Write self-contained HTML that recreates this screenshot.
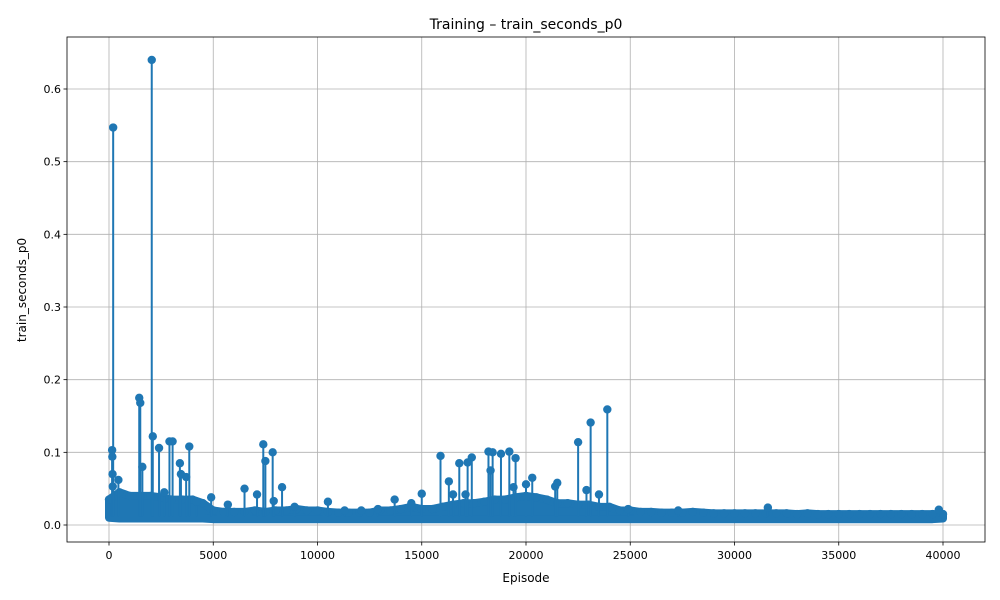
<!DOCTYPE html>
<html><head><meta charset="utf-8"><style>
body{margin:0;background:#fff;}
svg{display:block;font-family:"DejaVu Sans","Liberation Sans",sans-serif;}
</style></head><body>
<svg id="chart" width="1000" height="600" viewBox="0 0 1000 600"></svg>
<script>
const bandStart = 0, bandStep = 500;
const bandHi = [0.035,0.045,0.04,0.04,0.04,0.038,0.035,0.035,0.035,0.03,0.02,
0.018,0.018,0.018,0.02,0.018,0.02,0.02,0.022,0.02,0.02,0.018,0.017,0.017,0.017,0.017,0.02,0.02,0.022,0.025,0.022,
0.022,0.025,0.028,0.03,0.03,0.032,0.035,0.035,0.038,0.04,0.038,0.035,0.03,0.03,0.028,0.028,0.025,0.025,
0.02,0.02,0.018,0.018,0.017,0.017,0.017,0.018,0.017,0.016,0.016,0.016,0.016,0.016,0.016,0.016,0.016,0.015,0.016,0.015,0.015,0.015,0.015,0.015,0.015,0.015,0.015,0.015,0.015,0.015,0.015,0.015];
const bandLo = [0.01,0.009,0.009,0.009,0.009,0.009,0.009,0.009,0.009,0.009,0.008,
0.008,0.008,0.008,0.008,0.008,0.008,0.008,0.008,0.008,0.008,0.008,0.008,0.008,0.008,0.008,0.008,0.008,0.008,0.008,0.008,
0.008,0.008,0.008,0.008,0.008,0.008,0.008,0.008,0.008,0.008,0.008,0.008,0.008,0.008,0.008,0.008,0.008,0.008,
0.008,0.008,0.008,0.008,0.008,0.008,0.008,0.008,0.008,0.008,0.008,0.008,0.008,0.008,0.008,0.008,0.008,0.008,0.008,0.008,0.008,0.008,0.008,0.008,0.008,0.008,0.008,0.008,0.008,0.008,0.008,0.009];
const spikeEpisodes = [100,150,160,170,180,200,450,1450,1500,1600,2050,2100,2400,2650,2900,3050,3400,3450,3700,3850,4200,4900,5700,6500,7100,7400,7500,7850,7900,8300,8900,10500,11300,12100,12900,13700,14500,15000,15900,16300,16500,16800,17100,17200,17400,18200,18300,18400,18800,19200,19400,19500,20000,20300,21400,21500,22500,22900,23100,23500,23900,24900,27300,31600,39800];
const spikeValues = [0.035,0.103,0.094,0.07,0.053,0.547,0.062,0.175,0.168,0.08,0.64,0.122,0.106,0.045,0.115,0.115,0.085,0.07,0.066,0.108,0.032,0.038,0.028,0.05,0.042,0.111,0.088,0.1,0.033,0.052,0.025,0.032,0.02,0.02,0.022,0.035,0.03,0.043,0.095,0.06,0.042,0.085,0.042,0.086,0.093,0.101,0.075,0.1,0.098,0.101,0.052,0.092,0.056,0.065,0.053,0.058,0.114,0.048,0.141,0.042,0.159,0.022,0.02,0.024,0.021];
const xTicks = [0,5000,10000,15000,20000,25000,30000,35000,40000];
const yTicks = [0.0,0.1,0.2,0.3,0.4,0.5,0.6];

const L=67,R=985,T=37,B=542;
const xs = v => 109 + v*(943-109)/40000;
const ys = v => 525 - v*(525-89)/0.6;
const NS="http://www.w3.org/2000/svg";
const svg=document.getElementById('chart');
function mk(tag,attrs,parent){const e=document.createElementNS(NS,tag);for(const k in attrs)e.setAttribute(k,attrs[k]);(parent||svg).appendChild(e);return e;}

const grid=mk('g',{});


xTicks.forEach(t=>{mk('line',{x1:xs(t),x2:xs(t),y1:T,y2:B,stroke:'#b0b0b0','stroke-width':0.8},grid);});
yTicks.forEach(t=>{mk('line',{x1:L,x2:R,y1:ys(t),y2:ys(t),stroke:'#b0b0b0','stroke-width':0.8},grid);});

const series=mk('g',{});



const bandTopPts=bandHi.map((h,i)=>[bandStart+i*bandStep,h]);
const bandBotPts=bandLo.map((l,i)=>[bandStart+i*bandStep,l]).reverse();
const poly=bandTopPts.concat(bandBotPts).map(p=>xs(p[0]).toFixed(2)+','+ys(p[1]).toFixed(2)).join(' ');
const band=mk('polygon',{points:poly,fill:'#1f77b4',stroke:'#1f77b4','stroke-width':8,'stroke-linejoin':'round'},series);


bandTopPts.forEach(p=>{const c=mk('circle',{cx:xs(p[0]),cy:ys(p[1]),r:4.2,fill:'#1f77b4'},series);

});

spikeEpisodes.forEach((e,i)=>{
mk('line',{x1:xs(e),x2:xs(e),y1:ys(0.012),y2:ys(spikeValues[i]),stroke:'#1f77b4','stroke-width':2},series);
const c=mk('circle',{cx:xs(e),cy:ys(spikeValues[i]),r:4.2,fill:'#1f77b4'},series);

});

const frame=mk('rect',{x:L,y:T,width:R-L,height:B-T,fill:'none',stroke:'#000','stroke-width':0.8});



xTicks.forEach(t=>{mk('line',{x1:xs(t),x2:xs(t),y1:B,y2:B+3.5,stroke:'#000','stroke-width':0.8});
const tx=mk('text',{x:xs(t),y:B+17,'font-size':11,'text-anchor':'middle',fill:'#000'});tx.textContent=t;

});
yTicks.forEach(t=>{mk('line',{x1:L-3.5,x2:L,y1:ys(t),y2:ys(t),stroke:'#000','stroke-width':0.8});
const tx=mk('text',{x:L-6,y:ys(t)+4,'font-size':11,'text-anchor':'end',fill:'#000'});tx.textContent=t.toFixed(1);

});

const title=mk('text',{x:(L+R)/2,y:29,'font-size':14,'text-anchor':'middle'});title.textContent='Training – train_seconds_p0';


const xl=mk('text',{x:(L+R)/2,y:582,'font-size':12,'text-anchor':'middle'});xl.textContent='Episode';


const yl=mk('text',{x:0,y:0,'font-size':12,'text-anchor':'middle',transform:'translate(26,290) rotate(-90)'});yl.textContent='train_seconds_p0';


</script>
</body></html>
